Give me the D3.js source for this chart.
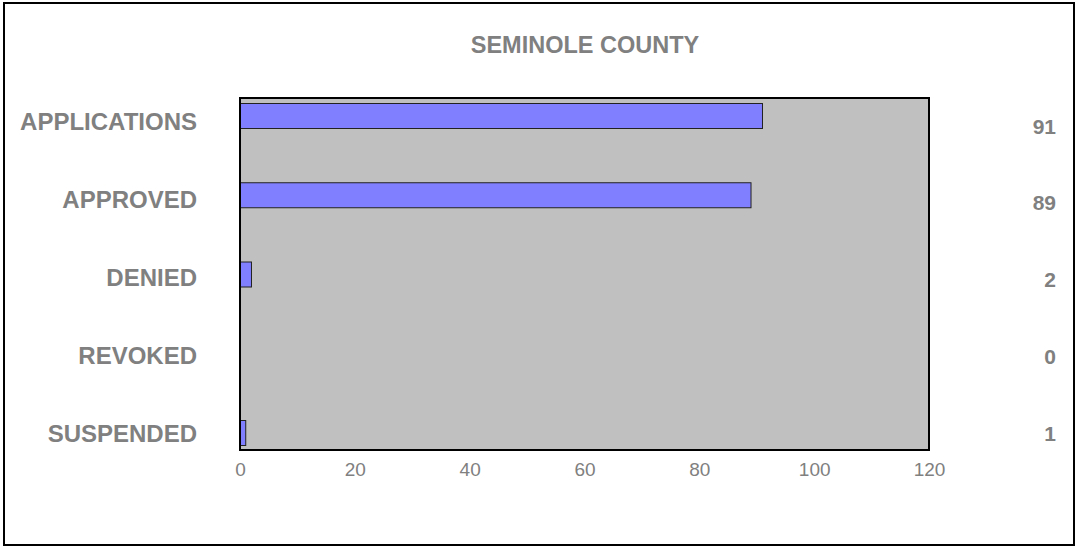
<!DOCTYPE html>
<html><head><meta charset="utf-8">
<script src="https://cdn.jsdelivr.net/npm/d3@7"></script>
<style>body{margin:0;background:#fff}svg{display:block}text{font-family:"Liberation Sans",Arial,sans-serif}</style>
</head><body>
<svg id="c" width="1078" height="548"></svg>
<script>
const title = "SEMINOLE COUNTY";
const categories = ["APPLICATIONS","APPROVED","DENIED","REVOKED","SUSPENDED"];
const values = [91, 89, 2, 0, 1];
const xTicks = [0,20,40,60,80,100,120];

const svg = d3.select("#c");
const gray = "#808080";
const plot = {x0:240, x1:929, y0:98, y1:450};

svg.append("rect").attr("x",4).attr("y",3).attr("width",1070).attr("height",542)
  .attr("fill","#fff").attr("stroke","#000").attr("stroke-width",2);

const x = d3.scaleLinear().domain([0,120]).range([plot.x0, plot.x1]);
const y = d3.scalePoint().domain(categories).range([116, 433]);
const yLab = d3.scalePoint().domain(categories).range([121, 433.5]);
const yVal = d3.scalePoint().domain(categories).range([126, 433]);
const bh = 25;

svg.append("rect").attr("x",plot.x0).attr("y",plot.y0)
  .attr("width",plot.x1-plot.x0).attr("height",plot.y1-plot.y0)
  .attr("fill","#c0c0c0");

svg.append("g").selectAll("rect").data(categories).join("rect")
  .attr("x", x(0))
  .attr("y", d => y(d) - bh/2)
  .attr("width", (d,i) => x(values[i]) - x(0))
  .attr("height", bh)
  .attr("fill","#7f7fff")
  .attr("stroke", (d,i) => values[i] > 0 ? "#222" : "none")
  .attr("stroke-width",1);

svg.append("rect").attr("x",plot.x0).attr("y",plot.y0)
  .attr("width",plot.x1-plot.x0).attr("height",plot.y1-plot.y0)
  .attr("fill","none").attr("stroke","#000").attr("stroke-width",2);

const ax = svg.append("g").attr("transform",`translate(0,${plot.y1})`)
  .call(d3.axisBottom(x).tickValues(xTicks).tickSize(0).tickPadding(13));
ax.select(".domain").remove();
ax.selectAll("text").attr("fill",gray).style("font-size","19px")
  .style("font-family","'Liberation Sans',Arial,sans-serif");

svg.append("g").selectAll("text").data(categories).join("text")
  .attr("x",197).attr("y", d => yLab(d))
  .attr("text-anchor","end").attr("dominant-baseline","central")
  .attr("fill",gray).attr("font-weight","bold").attr("font-size","24px")
  .text(d => d);

svg.append("g").selectAll("text").data(values).join("text")
  .attr("x",1056).attr("y",(d,i) => yVal(categories[i]))
  .attr("text-anchor","end").attr("dominant-baseline","central")
  .attr("fill",gray).attr("font-weight","bold").attr("font-size","21px")
  .text(d => d);

svg.append("text").attr("x",585).attr("y",45)
  .attr("text-anchor","middle").attr("dominant-baseline","central")
  .attr("fill",gray).attr("font-weight","bold").attr("font-size","23.5px")
  .text(title);
</script>
</body></html>
